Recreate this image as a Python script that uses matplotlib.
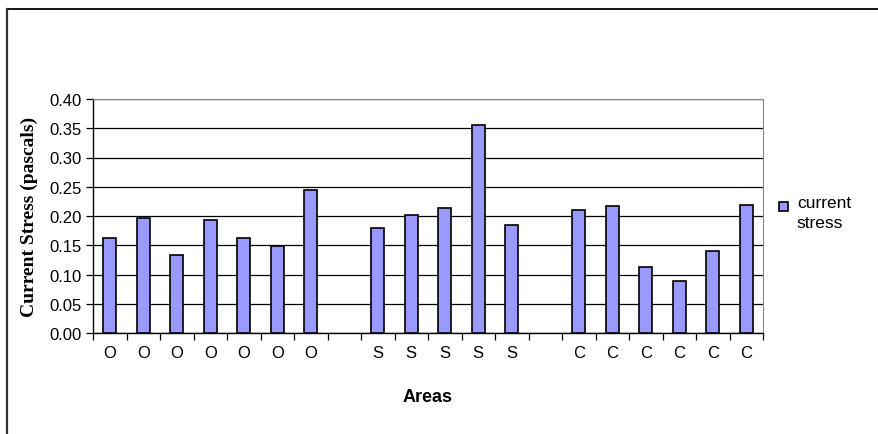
import matplotlib.pyplot as plt
from matplotlib.lines import Line2D
from matplotlib.patches import Rectangle
from matplotlib.legend_handler import HandlerPatch
import numpy as np

# area labels (blank entries leave a gap between groups)
areas = ['O', 'O', 'O', 'O', 'O', 'O', 'O', '',
         'S', 'S', 'S', 'S', 'S', '',
         'C', 'C', 'C', 'C', 'C', 'C']
stress = [0.162, 0.196, 0.133, 0.194, 0.162, 0.149, 0.244, np.nan,
          0.179, 0.201, 0.214, 0.356, 0.185, np.nan,
          0.211, 0.217, 0.113, 0.089, 0.141, 0.219]

fig = plt.figure(figsize=(8.79, 4.35), dpi=100)
ax = fig.add_axes([93 / 879, 1 - 334 / 435, 670 / 879, 234 / 435])

x = np.arange(len(areas))
vals = np.nan_to_num(stress)
mask = ~np.isnan(stress)
bars = ax.bar(x[mask], vals[mask], width=0.4, color='#9999ff', edgecolor='black',
              linewidth=1.2, zorder=3)

ax.set_xlim(-0.5, len(areas) - 0.5)
ax.set_ylim(0, 0.40)
yt = np.arange(0, 0.401, 0.05)
ax.set_yticks(yt)
ax.set_yticklabels([f'{v:.2f}' for v in yt], family='Liberation Sans', fontsize=12)
ax.yaxis.grid(True, color='black', linewidth=0.9, zorder=0)

ax.set_xticks(x)
ax.set_xticklabels(areas, family='Liberation Sans', fontsize=12)
ax.set_xticks(np.arange(-0.5, len(areas)), minor=True)
ax.tick_params(axis='x', which='major', length=0, pad=9)
ax.tick_params(axis='x', which='minor', length=5, direction='out', width=0.9)
ax.tick_params(axis='y', length=5, width=0.9, pad=3)

for s in ['top', 'right']:
    ax.spines[s].set_color('#888888')
for s in ['left', 'bottom']:
    ax.spines[s].set_color('black')
    ax.spines[s].set_linewidth(1.0)

ax.set_ylabel('Current Stress (pascals)', family='Liberation Serif',
              fontweight='bold', fontsize=14, labelpad=8)
ax.set_xlabel('Areas', family='Liberation Sans', fontweight='bold',
              fontsize=13, labelpad=20)


# legend key sits next to the first line of the two-line label
def top_square(legend, orig_handle, xdescent, ydescent, width, height, fontsize):
    s = 0.55 * fontsize
    return Rectangle((-xdescent, -ydescent + height - s - 0.25 * fontsize), s, s)


key = bars.patches[0]
leg = ax.legend([key], ['current\nstress'], loc='center left',
                bbox_to_anchor=(1.0, 0.515), frameon=False,
                prop={'family': 'Liberation Sans', 'size': 12.5},
                handlelength=0.55, handleheight=2.4, handletextpad=0.5,
                handler_map={key: HandlerPatch(patch_func=top_square)})
for t in leg.get_texts():
    t.set_linespacing(1.35)

# outer border of the chart area
fig.add_artist(Line2D([7 / 879, 1], [1 - 9.5 / 435] * 2, color='black', lw=1.3))
fig.add_artist(Line2D([7 / 879] * 2, [0, 1 - 9.5 / 435], color='#333333', lw=1.6))

fig.savefig('out.png', dpi=100)
